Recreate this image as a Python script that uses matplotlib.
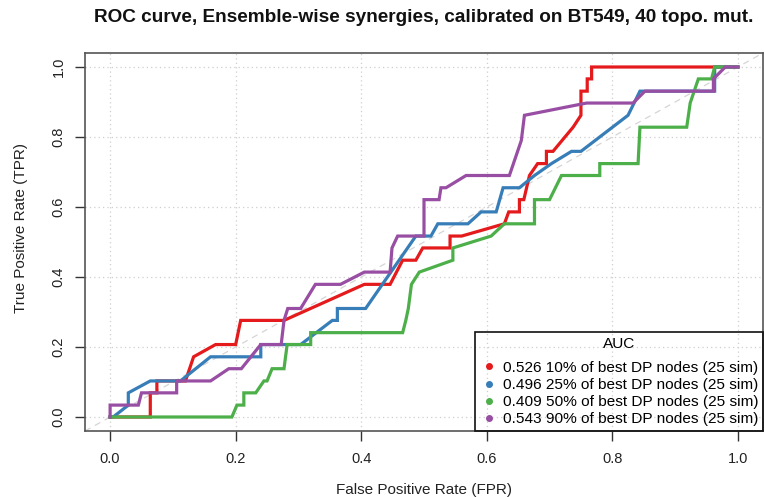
import matplotlib
matplotlib.use("Agg")
import matplotlib.pyplot as plt
from matplotlib.lines import Line2D

plt.rcParams['font.family'] = ['Liberation Sans', 'DejaVu Sans']

# ROC curves (FPR, TPR) for each ensemble selection
red_fpr = [0.0, 0.064, 0.064, 0.0745, 0.0745, 0.12, 0.133, 0.168, 0.2, 0.208, 0.277, 0.405, 0.446,
           0.466, 0.487, 0.498, 0.5415, 0.5415, 0.56, 0.628, 0.635, 0.652, 0.652, 0.659, 0.668,
           0.681, 0.695, 0.695, 0.7055, 0.7375, 0.75, 0.75, 0.76, 0.76, 0.767, 0.767, 1.0]
red_tpr = [0.0, 0.0, 0.069, 0.069, 0.103, 0.103, 0.172, 0.207, 0.207, 0.276, 0.276, 0.379, 0.379,
           0.448, 0.448, 0.483, 0.483, 0.517, 0.517, 0.552, 0.586, 0.586, 0.621, 0.621, 0.69,
           0.724, 0.724, 0.759, 0.759, 0.828, 0.862, 0.931, 0.931, 0.966, 0.966, 1.0, 1.0]

blue_fpr = [0.0, 0.005, 0.029, 0.029, 0.064, 0.112, 0.16, 0.24, 0.24, 0.3035, 0.354, 0.362, 0.362,
            0.407, 0.487, 0.511, 0.522, 0.57, 0.591, 0.615, 0.626, 0.652, 0.676, 0.703, 0.735,
            0.75, 0.825, 0.844, 0.963, 0.963, 1.0]
blue_tpr = [0.0, 0.0, 0.034, 0.069, 0.103, 0.103, 0.172, 0.172, 0.207, 0.207, 0.276, 0.276, 0.31,
            0.31, 0.517, 0.517, 0.552, 0.552, 0.586, 0.586, 0.655, 0.655, 0.69, 0.724, 0.759,
            0.759, 0.862, 0.931, 0.931, 1.0, 1.0]

green_fpr = [0.0, 0.194, 0.202, 0.213, 0.213, 0.232, 0.245, 0.25, 0.258, 0.277, 0.282, 0.3195,
             0.3195, 0.466, 0.471, 0.475, 0.48, 0.4925, 0.546, 0.546, 0.607, 0.628, 0.676, 0.676,
             0.7, 0.719, 0.78, 0.78, 0.841, 0.844, 0.9185, 0.924, 0.937, 0.958, 0.963, 1.0]
green_tpr = [0.0, 0.0, 0.034, 0.034, 0.069, 0.069, 0.103, 0.103, 0.138, 0.138, 0.207, 0.207,
             0.241, 0.241, 0.276, 0.31, 0.379, 0.414, 0.448, 0.483, 0.517, 0.552, 0.552, 0.621,
             0.621, 0.69, 0.69, 0.724, 0.724, 0.828, 0.828, 0.897, 0.966, 0.966, 1.0, 1.0]

purple_fpr = [0.0, 0.0, 0.045, 0.05, 0.106, 0.106, 0.16, 0.189, 0.209, 0.24, 0.2725, 0.277, 0.283,
              0.3035, 0.327, 0.367, 0.405, 0.446, 0.449, 0.458, 0.5, 0.5, 0.524, 0.527, 0.535,
              0.567, 0.636, 0.655, 0.66, 0.759, 0.833, 0.852, 0.961, 0.961, 0.98, 1.0]
purple_tpr = [0.0, 0.034, 0.034, 0.069, 0.069, 0.103, 0.103, 0.138, 0.138, 0.207, 0.207, 0.276,
              0.31, 0.31, 0.379, 0.379, 0.414, 0.414, 0.483, 0.517, 0.517, 0.621, 0.621, 0.655,
              0.655, 0.69, 0.69, 0.79, 0.862, 0.897, 0.897, 0.931, 0.931, 0.966, 1.0, 1.0]

auc_values = ["0.526", "0.496", "0.409", "0.543"]
series_names = ["10% of best DP nodes (25 sim)", "25% of best DP nodes (25 sim)",
                "50% of best DP nodes (25 sim)", "90% of best DP nodes (25 sim)"]
colors = ["#E41A1C", "#377EB8", "#4DAF4A", "#984EA3"]
ticks = [0.0, 0.2, 0.4, 0.6, 0.8, 1.0]
tick_labels = ["0.0", "0.2", "0.4", "0.6", "0.8", "1.0"]

W, H = 764, 497
fig = plt.figure(figsize=(W / 100, H / 100), dpi=100)
left, right, top, bottom = 85, 763, 53, 431
ax = fig.add_axes([left / W, 1 - bottom / H, (right - left) / W, (bottom - top) / H])
ax.set_xlim(-0.04, 1.04)
ax.set_ylim(-0.04, 1.04)

# grid and reference diagonal
for t in ticks:
    ax.axvline(t, color="#cfcfcf", lw=0.9, ls=(0, (1, 2.5)), zorder=0)
    ax.axhline(t, color="#cfcfcf", lw=0.9, ls=(0, (1, 2.5)), zorder=0)
ax.plot([-0.04, 1.04], [-0.04, 1.04], color="#d5d5d5", lw=0.9, ls=(0, (5, 4)), zorder=1)

curves = [(red_fpr, red_tpr), (blue_fpr, blue_tpr), (green_fpr, green_tpr), (purple_fpr, purple_tpr)]
for (fx, ty), c in zip(curves, colors):
    ax.plot(fx, ty, color=c, lw=2.3, solid_joinstyle="miter", zorder=3)

ax.set_xticks(ticks)
ax.set_xticklabels(tick_labels)
ax.set_yticks(ticks)
ax.set_yticklabels(tick_labels, rotation=90, va="center")
ax.tick_params(axis="both", direction="out", length=7, width=1, color="#333333",
               labelsize=10.5, labelcolor="#222222")
ax.tick_params(axis="x", pad=8)
ax.tick_params(axis="y", pad=7)
for s in ax.spines.values():
    s.set_color("#555555")
    s.set_linewidth(1.2)

fig.text(424 / W, 1 - 18 / H, "ROC curve, Ensemble-wise synergies, calibrated on BT549, 40 topo. mut.",
         ha="center", va="center", fontsize=13.7, fontweight="bold", color="#111111")
fig.text(424 / W, 1 - 490 / H, "False Positive Rate (FPR)", ha="center", va="center",
         fontsize=11, color="#222222")
fig.text(21 / W, 1 - 228 / H, "True Positive Rate (TPR)", ha="center", va="center",
         rotation=90, fontsize=11, color="#222222")

handles = [Line2D([], [], ls="none", marker="o", markersize=4, color=c) for c in colors]
labels = [f"{a} {n}" for a, n in zip(auc_values, series_names)]
leg = ax.legend(handles, labels, title="AUC", loc="lower right", bbox_to_anchor=(1, 0),
                borderaxespad=0, fontsize=11.1, title_fontsize=11.1, frameon=True,
                fancybox=False, handlelength=1.23, handletextpad=0.3, labelspacing=0.21,
                borderpad=0.3, framealpha=1)
leg._legend_box.sep = 7
leg.get_frame().set_edgecolor("#111111")
leg.get_frame().set_facecolor("none")
leg.get_frame().set_linewidth(1.2)

fig.savefig("out.png", dpi=100)
